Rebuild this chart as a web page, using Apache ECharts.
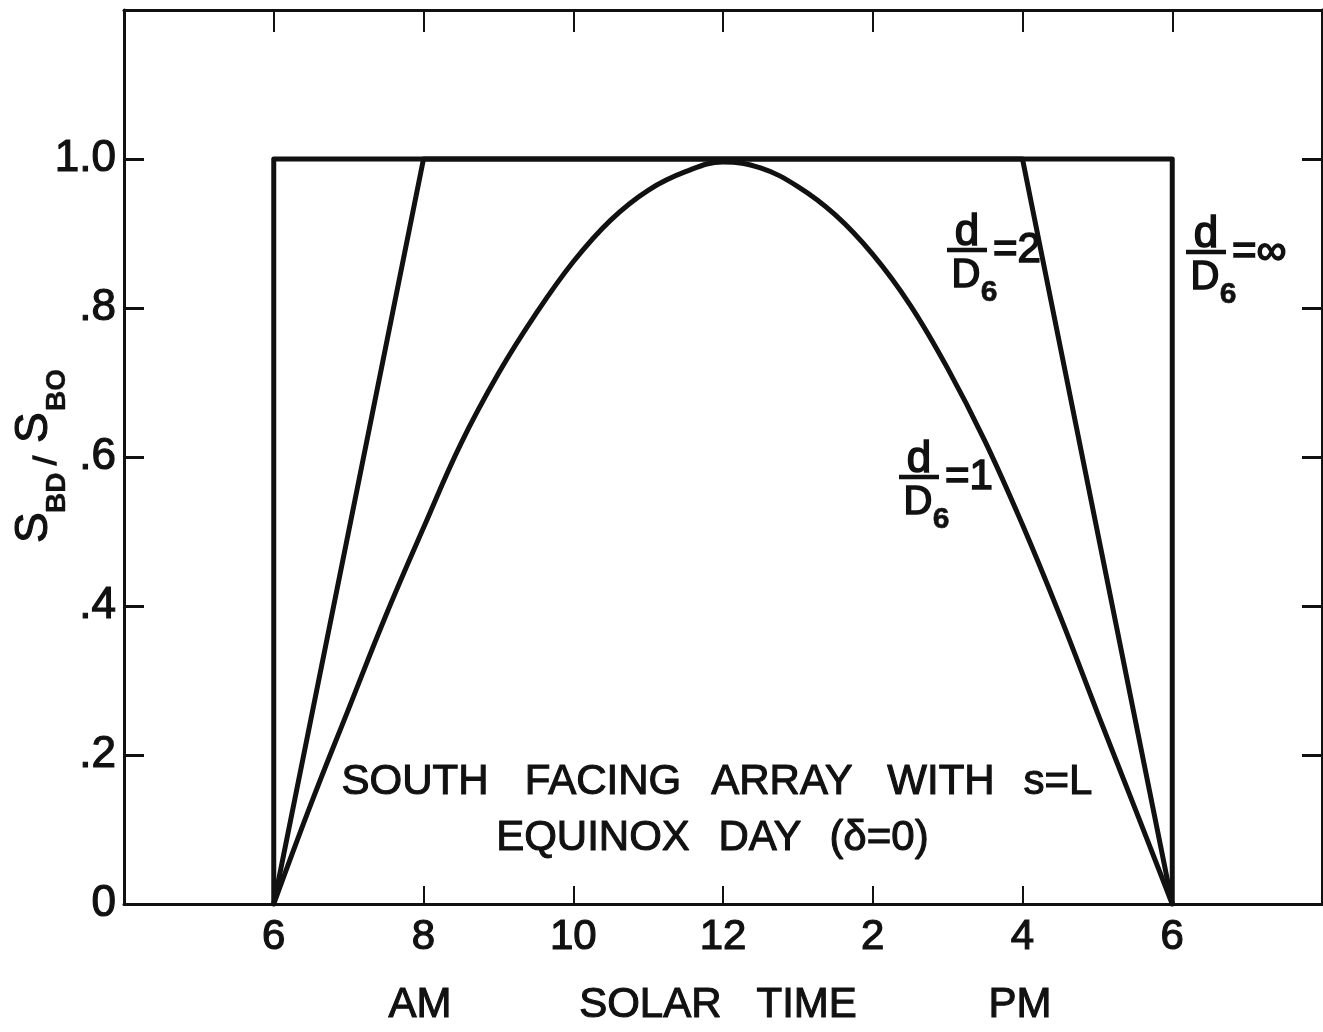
<!DOCTYPE html>
<html>
<head>
<meta charset="utf-8">
<script src="https://cdn.jsdelivr.net/npm/echarts@6/dist/echarts.min.js"></script>
<style>
html,body{margin:0;padding:0;background:#fff;}
#chart{width:1323px;height:1032px;}
</style>
</head>
<body>
<div id="chart"></div>
<script>
// ---- data (solar time in hours, 24h clock) ----
const hoursD1 = [6,6.5,7,7.5,8,8.5,9,9.5,10,10.5,11,11.5,12,12.5,13,13.5,14,14.5,15,15.5,16,16.5,17,17.5,18];
const ratioD1 = [0,0.135,0.262,0.388,0.505,0.618,0.712,0.792,0.862,0.918,0.958,0.983,0.996,0.988,0.963,0.925,0.872,0.804,0.719,0.621,0.509,0.387,0.257,0.129,0];
const hoursD2 = [6,8,16,18];
const ratioD2 = [0,1,1,0];
const hoursInf = [6,6,18,18];
const ratioInf = [0,1,1,0];
const xTickHours = [6,8,10,12,14,16,18];
const xTickLabels = ['6','8','10','12','2','4','6'];
const yTickValues = [0,0.2,0.4,0.6,0.8,1.0];
const yTickLabels = ['0','.2','.4','.6','.8','1.0'];
const xAxisWords = ['AM','SOLAR   TIME','PM'];
const noteLine1 = ['SOUTH','FACING','ARRAY','WITH','s=L'];
const noteLine2 = ['EQUINOX','DAY','(δ=0)'];

const INK = '#111';
const FF = '"Liberation Sans", Arial, sans-serif';
const pairs = (xs, ys) => xs.map((x, i) => [x, ys[i]]);

function xFmt(v){
  const i = xTickHours.findIndex(h => Math.abs(h - v) < 1e-6);
  return i < 0 ? '' : xTickLabels[i];
}
function yFmt(v){
  const i = yTickValues.findIndex(h => Math.abs(h - v) < 1e-6);
  return i < 0 ? '' : yTickLabels[i];
}

function txt(x, y, s, size, opts){
  opts = opts || {};
  return {
    type:'text', x:x, y:y, z:10,
    style:{
      text:s, font:(opts.weight||'normal')+' '+size+'px '+FF, fill:INK,
      stroke:INK, lineWidth:opts.lw == null ? 1.1 : opts.lw,
      textAlign:opts.align||'center', align:opts.align||'center',
      textVerticalAlign:opts.valign||'middle', verticalAlign:opts.valign||'middle'
    }
  };
}

function frac(cx, barY, rhs){
  return [
    txt(cx, barY - 17, 'd', 44, {lw:1.6}),
    {type:'line', z:10, shape:{x1:cx-20, y1:barY, x2:cx+20, y2:barY}, style:{stroke:INK, lineWidth:4.5}},
    txt(cx - 1, barY + 26, 'D', 40, {lw:1.6}),
    txt(cx + 22, barY + 43, '6', 30, {weight:'bold', lw:0.6}),
    txt(cx + 26, barY, rhs, 42, {align:'left', lw:1.6})
  ];
}

const chart = echarts.init(document.getElementById('chart'), null, {renderer:'canvas'});

const axisCommon = {
  type:'value', min:4, max:20, interval:2,
  axisLine:{show:true, onZero:false, lineStyle:{color:INK, width:3}},
  splitLine:{show:false}
};
const yCommon = {
  type:'value', min:0, max:1.2, interval:0.2,
  axisLine:{show:true, onZero:false, lineStyle:{color:INK, width:3}},
  splitLine:{show:false}
};

const yLabelGroup = {
  type:'group', x:45, y:456, rotation:Math.PI/2, z:10,
  children:[
    txt(-87, -11, 'S', 46, {align:'left'}),
    txt(-57, 12, 'BD', 28, {align:'left', weight:'bold', lw:0.4}),
    txt(-9, 2, '/', 32, {align:'left', lw:1.5}),
    txt(13, -11, 'S', 46, {align:'left'}),
    txt(45, 12, 'BO', 28, {align:'left', weight:'bold', lw:0.4})
  ]
};

const line1X = [415, 603, 782, 941, 1058];
const line2X = [593, 760, 879];
const wordsX = [420, 718, 1020];

const graphics = [yLabelGroup]
  .concat(noteLine1.map((w, i) => txt(line1X[i], 782, w, 42)))
  .concat(noteLine2.map((w, i) => txt(line2X[i], 838, w, 42)))
  .concat(xAxisWords.map((w, i) => txt(wordsX[i], 1005, w, 42)))
  .concat(frac(967, 250, '=2'))
  .concat(frac(1206, 252, '=∞'))
  .concat(frac(919, 477, '=1'));

const lineStyle = {color:INK, width:5, cap:'round', join:'round'};
const tickLabelStyle = {color:INK, fontFamily:FF, textBorderColor:INK, textBorderWidth:1.2};

chart.setOption({
  animation:false,
  backgroundColor:'#fff',
  grid:{left:124, right:1, top:10, bottom:128},
  xAxis:[
    Object.assign({}, axisCommon, {
      position:'bottom',
      axisTick:{show:true, inside:true, length:18, customValues:xTickHours, lineStyle:{color:INK, width:2}},
      axisLabel:Object.assign({show:true, formatter:xFmt, customValues:xTickHours, fontSize:42, margin:12}, tickLabelStyle)
    }),
    Object.assign({}, axisCommon, {
      position:'top',
      axisTick:{show:true, inside:true, length:22, customValues:xTickHours, lineStyle:{color:INK, width:2}},
      axisLabel:{show:false}
    })
  ],
  yAxis:[
    Object.assign({}, yCommon, {
      position:'left',
      axisTick:{show:true, inside:true, length:20, customValues:yTickValues, lineStyle:{color:INK, width:3}},
      axisLabel:Object.assign({show:true, formatter:yFmt, customValues:yTickValues, fontSize:44, margin:8}, tickLabelStyle)
    }),
    Object.assign({}, yCommon, {
      position:'right',
      axisTick:{show:true, inside:true, length:20, customValues:yTickValues, lineStyle:{color:INK, width:3}},
      axisLabel:{show:false}
    })
  ],
  series:[
    {name:'d/D6=∞', type:'line', data:pairs(hoursInf, ratioInf), showSymbol:false, symbol:'none', lineStyle:lineStyle, z:3},
    {name:'d/D6=2', type:'line', data:pairs(hoursD2, ratioD2), showSymbol:false, symbol:'none', lineStyle:lineStyle, z:3},
    {name:'d/D6=1', type:'line', data:pairs(hoursD1, ratioD1), showSymbol:false, symbol:'none', smooth:0.4, lineStyle:lineStyle, z:3}
  ],
  graphic:graphics
});
</script>
</body>
</html>
